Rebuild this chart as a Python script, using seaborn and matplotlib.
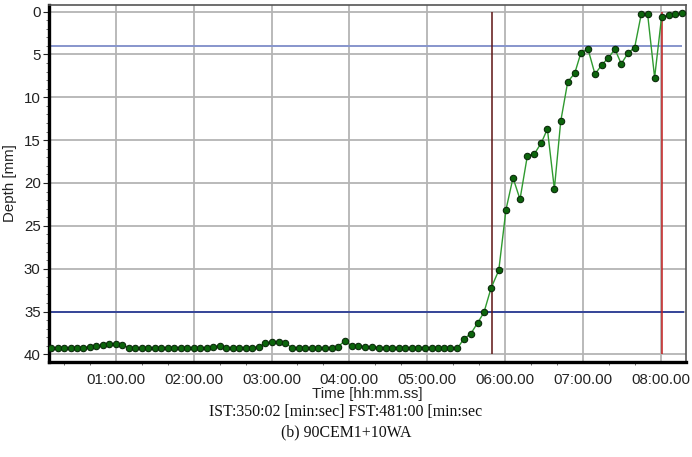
import numpy as np
import pandas as pd
import matplotlib
matplotlib.use("Agg")
import matplotlib.pyplot as plt
from matplotlib.ticker import FuncFormatter, MultipleLocator
import seaborn as sns

# ---- data (time in seconds, depth in mm) ----
time_s = [10, 15, 20, 25, 30, 35, 40, 45, 50, 55, 60, 65, 70, 75, 80, 85, 90, 95,
          100, 105, 110, 115, 120, 125, 130, 135, 140, 145, 150, 155, 160,
          165.1, 170.2, 175.3, 180.4, 185.5, 190.6, 195.7, 200.8, 205.9, 211.0,
          216.1, 221.2, 226.3, 231.4, 236.5,
          241.7, 246.7, 252.4, 257.5, 262.7, 267.9, 272.9, 278.1, 283.0, 288.4,
          293.3, 298.1, 303.5, 308.7, 312.8,
          317.6, 323.3, 328.2, 333.6, 339.0, 343.8, 349.2, 355.2, 360.8, 366.2,
          371.6, 377.3, 382.7, 388.1, 392.7, 398.1, 403.0, 408.4, 413.8, 418.6,
          424.0, 429.4, 434.8, 439.7, 444.8, 449.7, 455.1, 460.0, 465.1, 470.0,
          475.4, 480.8, 486.2, 491.0, 496.4]
depth_mm = [39.2, 39.2, 39.2, 39.3, 39.2, 39.2, 39.1, 39.0, 38.9, 38.8, 38.8, 38.9,
            39.2, 39.3, 39.3, 39.3, 39.2, 39.2, 39.2, 39.2, 39.2, 39.2, 39.2, 39.3,
            39.2, 39.1, 39.0, 39.3, 39.3, 39.2, 39.2,
            39.2, 39.1, 38.7, 38.6, 38.6, 38.7, 39.2, 39.3, 39.3, 39.2,
            39.3, 39.3, 39.3, 39.1, 38.4,
            39.0, 39.0, 39.1, 39.1, 39.2, 39.2, 39.2, 39.2, 39.3, 39.2,
            39.2, 39.2, 39.2, 39.3, 39.2,
            39.2, 39.3, 38.2, 37.6, 36.3, 35.1, 32.3, 30.2, 23.1, 19.4,
            21.9, 16.8, 16.6, 15.3, 13.7, 20.7, 12.8, 8.2, 7.2, 4.8,
            4.35, 7.3, 6.2, 5.4, 4.4, 6.1, 4.8, 4.2, 0.3, 0.3,
            7.7, 0.6, 0.4, 0.3, 0.2]

ist_s = 350.02
fst_s = 481.0
upper_level_mm = 4.0
lower_level_mm = 35.0
caption_line1 = "IST:350:02 [min:sec] FST:481:00 [min:sec"
caption_line2 = "(b) 90CEM1+10WA"

df = pd.DataFrame({"time": time_s, "depth": depth_mm})

sns.set_style("white")
plt.rcParams["font.family"] = ["Liberation Sans", "DejaVu Sans"]

fig = plt.figure(figsize=(6.92, 4.57), dpi=100)
ax = fig.add_axes([49 / 692, 1 - 361.7 / 457, (686 - 49) / 692, (361.7 - 4.7) / 457])

# grid
ax.set_axisbelow(True)
ax.grid(True, which="major", color="#b4b4b4", linewidth=1.3)

# reference lines
ax.hlines(upper_level_mm, time_s[0], time_s[-1], color="#8795cc", linewidth=1.4, zorder=2)
ax.hlines(lower_level_mm, time_s[0], time_s[-1] + 1.5, color="#2c3c96", linewidth=1.3, zorder=2)
ax.vlines(ist_s, 0, 40, color="#5e1414", linewidth=1.1, zorder=2)
ax.vlines(fst_s, 0, 40, color="#c21f1f", linewidth=1.1, zorder=2)

sns.lineplot(data=df, x="time", y="depth", ax=ax, color="#2f9a2f", linewidth=1.0,
             marker="o", markersize=4.6, markerfacecolor="#0c650c",
             markeredgecolor="#0a2a0a", markeredgewidth=0.8, zorder=3, sort=False)

ax.set_xlim(8.4, 499.6)
ax.set_ylim(40.85, -0.8)

ax.xaxis.set_major_locator(MultipleLocator(60))
ax.xaxis.set_minor_locator(MultipleLocator(20))
ax.yaxis.set_major_locator(MultipleLocator(5))
ax.yaxis.set_minor_locator(MultipleLocator(1))
ax.xaxis.set_major_formatter(FuncFormatter(lambda v, p: f"{int(v // 60):02d}:{int(round(v % 60)):02d}.00"))
ax.yaxis.set_major_formatter(FuncFormatter(lambda v, p: f"{int(round(v))}"))

ax.tick_params(axis="both", which="major", direction="out", length=4, width=0.8,
               labelsize=10.8, colors="#222222", labelcolor="#222222", pad=2)
ax.tick_params(axis="both", which="minor", direction="out", length=2.5, width=0.6, colors="#555555")
ax.tick_params(axis="x", which="major", length=3, pad=5)
ax.tick_params(bottom=True, left=True, which="both")
ax.tick_params(axis="x", which="major", bottom=False)

for side in ["left", "bottom"]:
    ax.spines[side].set_color("black")
    ax.spines[side].set_linewidth(2.4)
for side in ["top", "right"]:
    ax.spines[side].set_color("#555555")
    ax.spines[side].set_linewidth(1.2)

ax.set_xlabel("Time [hh:mm.ss]", fontsize=10.8, color="#222222", labelpad=0)
ax.set_ylabel("Depth [mm]", fontsize=10.8, color="#222222", labelpad=5)

fig.text(0.5, 1 - 412 / 457, caption_line1, ha="center", va="center",
         fontsize=11.4, family=["Liberation Serif", "DejaVu Serif"], color="#111111")
fig.text(0.5, 1 - 432 / 457, caption_line2, ha="center", va="center",
         fontsize=11.4, family=["Liberation Serif", "DejaVu Serif"], color="#111111")

fig.savefig("out.png", dpi=100)
